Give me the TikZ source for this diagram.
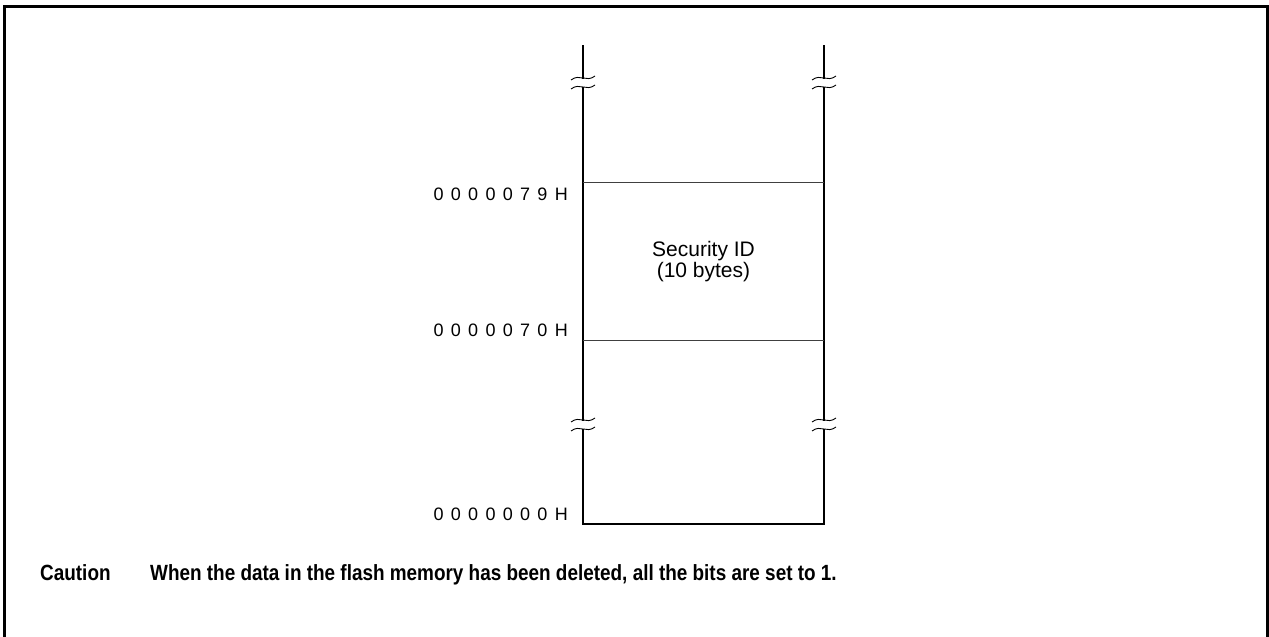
\documentclass[tikz,border=0pt]{standalone}
\usepackage{fontspec}
\setmainfont{Liberation Sans}
\newfontfamily\notefont[FakeStretch=0.86]{Liberation Sans}
\newcommand\addrgap{\hspace{7.3pt}}
\tikzset{
  frameline/.style={line width=3pt},
  memline/.style={line width=2.6pt},
  divline/.style={line width=1pt, black!75},
  breakwave/.style={line width=0.9pt},
  addrlabel/.style={anchor=base east, inner sep=0pt, font=\fontsize{18}{20}\selectfont},
  boxlabel/.style={anchor=base, inner sep=0pt, font=\fontsize{21}{24}\selectfont},
  notelabel/.style={anchor=base west, inner sep=0pt, font=\notefont\fontsize{22}{26}\selectfont\bfseries}
}
\newcommand\wave[2]{\draw[breakwave] (#1-12,#2+2) .. controls (#1-3,#2-5) and (#1+3,#2+5) .. (#1+12,#2-2);}
\begin{document}
\begin{tikzpicture}[x=1pt,y=-1pt]
\useasboundingbox (0,0) rectangle (1269,637);
% outer frame (open at bottom)
\draw[frameline] (4.5,637) -- (4.5,6.5) -- (1267,6.5) -- (1267,637);
% memory map coordinates
\coordinate (LT) at (583,45);
\coordinate (RT) at (824,45);
\coordinate (LB1) at (583,79);
\coordinate (LB2) at (583,87);
\coordinate (RB1) at (824,79);
\coordinate (RB2) at (824,87);
\coordinate (LC1) at (583,421);
\coordinate (LC2) at (583,429);
\coordinate (RC1) at (824,421);
\coordinate (RC2) at (824,429);
\coordinate (LB) at (583,524);
\coordinate (RB) at (824,524);
\coordinate (L79) at (583,182);
\coordinate (R79) at (824,182);
\coordinate (L70) at (583,340);
\coordinate (R70) at (824,340);
% vertical walls with breaks
\draw[memline] (LT) -- (LB1);
\draw[memline] (RT) -- (RB1);
\draw[memline] (LB2) -- (LC1);
\draw[memline] (RB2) -- (RC1);
\draw[memline, line join=miter] (LC2) -- (LB) -- (RB) -- (RC2);
% break marks
\wave{583}{78}
\wave{583}{87}
\wave{824}{78}
\wave{824}{87}
\wave{583}{420}
\wave{583}{429}
\wave{824}{420}
\wave{824}{429}
% divider lines
\draw[divline] (L79) -- (R79);
\draw[divline] (L70) -- (R70);
% address labels
\node[addrlabel] (a79) at (568,200) {0\addrgap0\addrgap0\addrgap0\addrgap0\addrgap7\addrgap9\addrgap H};
\node[addrlabel] (a70) at (568,336) {0\addrgap0\addrgap0\addrgap0\addrgap0\addrgap7\addrgap0\addrgap H};
\node[addrlabel] (a00) at (568,520) {0\addrgap0\addrgap0\addrgap0\addrgap0\addrgap0\addrgap0\addrgap H};
% area label
\node[boxlabel] (sid1) at (703.5,256) {Security ID};
\node[boxlabel] (sid2) at (703.5,277) {(10 bytes)};
% caution note
\node[notelabel] (cau) at (40,580) {Caution};
\node[notelabel] (note) at (150,580) {When the data in the flash memory has been deleted, all the bits are set to 1.};
\end{tikzpicture}
\end{document}
